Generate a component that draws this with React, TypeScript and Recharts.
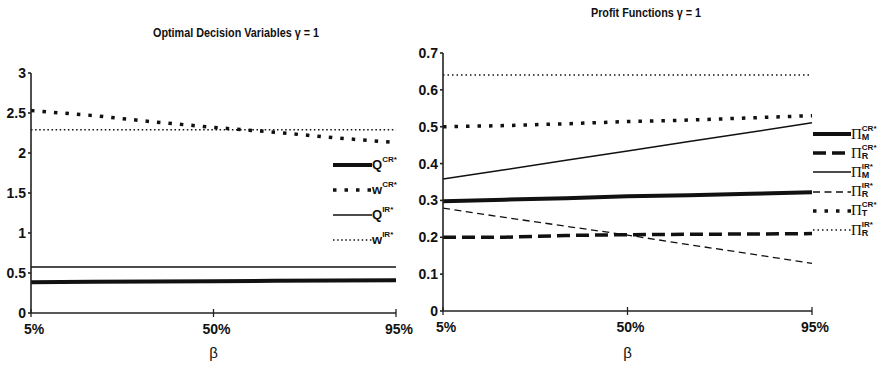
import { LineChart, Line, XAxis, YAxis } from 'recharts';

// β grid (percent) shared by both panels
const betaValues = [5, 20, 35, 50, 65, 80, 95];

// Optimal decision variables, γ = 1
const qCR = [0.385, 0.39, 0.394, 0.398, 0.402, 0.405, 0.409];
const wCR = [2.53, 2.47, 2.39, 2.32, 2.26, 2.19, 2.13];
const qIR = [0.575, 0.575, 0.575, 0.575, 0.575, 0.575, 0.575];
const wIR = [2.29, 2.29, 2.29, 2.29, 2.29, 2.29, 2.29];

// Profit functions, γ = 1
const piMCR = [0.298, 0.302, 0.306, 0.311, 0.314, 0.318, 0.322];
const piRCR = [0.2, 0.2, 0.205, 0.207, 0.208, 0.209, 0.21];
const piMIR = [0.358, 0.383, 0.409, 0.434, 0.46, 0.485, 0.511];
const piRIR = [0.279, 0.254, 0.23, 0.206, 0.18, 0.155, 0.129];
const piTCR = [0.5, 0.503, 0.508, 0.514, 0.518, 0.524, 0.53];
const piTIR = [0.64, 0.64, 0.64, 0.64, 0.64, 0.64, 0.64];

const leftTicks = [0, 0.5, 1, 1.5, 2, 2.5, 3];
const rightTicks = [0, 0.1, 0.2, 0.3, 0.4, 0.5, 0.6, 0.7];
const xTicks = [5, 50, 95];

const FONT = "'Liberation Sans Narrow', 'Arial Narrow', 'Liberation Sans', sans-serif";
const INK = '#111';
const AXIS = '#222';

interface SeriesDef {
  key: string;
  values: number[];
  width: number;
  dash?: string;
  base: string;
  sub?: string;
  sup: string;
}

const leftSeries: SeriesDef[] = [
  { key: 'qCR', values: qCR, width: 4, base: 'Q', sup: 'CR*' },
  { key: 'wCR', values: wCR, width: 3.5, dash: '3.5 8', base: 'w', sup: 'CR*' },
  { key: 'qIR', values: qIR, width: 1.6, base: 'Q', sup: 'IR*' },
  { key: 'wIR', values: wIR, width: 1.6, dash: '1.5 2.6', base: 'w', sup: 'IR*' },
];

const rightSeries: SeriesDef[] = [
  { key: 'piMCR', values: piMCR, width: 4, base: 'Π', sub: 'M', sup: 'CR*' },
  { key: 'piRCR', values: piRCR, width: 3.5, dash: '13 6', base: 'Π', sub: 'R', sup: 'CR*' },
  { key: 'piMIR', values: piMIR, width: 1.5, base: 'Π', sub: 'M', sup: 'IR*' },
  { key: 'piRIR', values: piRIR, width: 1.3, dash: '7 4.5', base: 'Π', sub: 'R', sup: 'IR*' },
  { key: 'piTCR', values: piTCR, width: 3.5, dash: '3.5 8', base: 'Π', sub: 'T', sup: 'CR*' },
  { key: 'piTIR', values: piTIR, width: 1.5, dash: '1.5 3', base: 'Π', sub: 'R', sup: 'IR*' },
];

function buildRows(series: SeriesDef[]) {
  return betaValues.map((beta, i) => {
    const row: Record<string, number> = { beta };
    series.forEach((s) => {
      row[s.key] = s.values[i];
    });
    return row;
  });
}

const tickStyle = { fill: INK, fontSize: 14, fontWeight: 700, fontFamily: FONT };

function XTick({ x, y, payload }: any) {
  return (
    <g>
      <line x1={x} x2={x} y1={y - 4} y2={y + 4} stroke={AXIS} strokeWidth={1.3} />
      <text x={x + 3} y={y + 21} textAnchor="middle" {...tickStyle}>
        {payload.value}%
      </text>
    </g>
  );
}

function LegendLabel({ s }: { s: SeriesDef }) {
  const isPi = s.base === 'Π';
  return (
    <span style={{ display: 'inline-flex', alignItems: 'flex-start', color: INK }}>
      <span
        style={{
          fontFamily: isPi ? "'Liberation Serif', serif" : FONT,
          fontSize: isPi ? 15 : 13,
          fontWeight: isPi ? 400 : 700,
          lineHeight: '14px',
        }}
      >
        {s.base}
      </span>
      <span
        style={{
          display: 'inline-flex',
          flexDirection: 'column',
          fontFamily: FONT,
          fontWeight: 700,
          fontSize: 8,
          lineHeight: '8px',
          marginTop: -2,
        }}
      >
        <span>{s.sup}</span>
        {s.sub && <span style={{ fontSize: 9, lineHeight: '9px' }}>{s.sub}</span>}
      </span>
    </span>
  );
}

function SeriesLegend({
  series,
  left,
  top,
  step,
  sample,
}: {
  series: SeriesDef[];
  left: number;
  top: number;
  step: number;
  sample: number;
}) {
  return (
    <div style={{ position: 'absolute', left, top }}>
      {series.map((s, i) => (
        <div
          key={s.key}
          style={{
            position: 'absolute',
            top: i * step - 8,
            left: 0,
            display: 'flex',
            alignItems: 'center',
            whiteSpace: 'nowrap',
            height: 16,
          }}
        >
          <svg width={sample} height={16}>
            <line
              x1={0}
              x2={sample}
              y1={8}
              y2={8}
              stroke={INK}
              strokeWidth={s.width}
              strokeDasharray={s.dash}
            />
          </svg>
          <LegendLabel s={s} />
        </div>
      ))}
    </div>
  );
}

function Panel({
  series,
  ticks,
  domain,
  left,
  width,
  top,
  yAxisWidth,
  right,
  xAxisHeight,
}: {
  series: SeriesDef[];
  ticks: number[];
  domain: [number, number];
  left: number;
  width: number;
  top: number;
  yAxisWidth: number;
  right: number;
  xAxisHeight: number;
}) {
  return (
    <div style={{ position: 'absolute', left, top: 0 }}>
      <LineChart
        width={width}
        height={370}
        data={buildRows(series)}
        margin={{ top, right, left: 0, bottom: 0 }}
      >
        <XAxis
          dataKey="beta"
          type="number"
          domain={[5, 95]}
          ticks={xTicks}
          height={xAxisHeight}
          stroke={AXIS}
          strokeWidth={1.6}
          tickLine={false}
          tickSize={0}
          tickMargin={0}
          tick={<XTick />}
          label={{
            value: 'β',
            position: 'insideBottom',
            offset: 12,
            style: { fill: INK, fontSize: 15, fontFamily: FONT },
          }}
        />
        <YAxis
          type="number"
          domain={domain}
          ticks={ticks}
          width={yAxisWidth}
          stroke={AXIS}
          strokeWidth={1.6}
          tickSize={3}
          tickMargin={2}
          tick={tickStyle}
          interval={0}
        />
        {series.map((s) => (
          <Line
            key={s.key}
            type="linear"
            dataKey={s.key}
            stroke={INK}
            strokeWidth={s.width}
            strokeDasharray={s.dash}
            dot={false}
            activeDot={false}
            isAnimationActive={false}
          />
        ))}
      </LineChart>
    </div>
  );
}

const titleStyle = {
  position: 'absolute' as const,
  fontFamily: FONT,
  fontWeight: 700,
  fontSize: 12,
  color: INK,
  whiteSpace: 'nowrap' as const,
  transform: 'translateX(-50%) scaleX(0.9)',
};

export default function App() {
  return (
    <div
      style={{
        position: 'absolute',
        left: 0,
        top: 0,
        width: 884,
        height: 370,
        background: '#fff',
        overflow: 'hidden',
      }}
    >
      <Panel
        series={leftSeries}
        ticks={leftTicks}
        domain={[0, 3]}
        left={0}
        width={440}
        top={73}
        yAxisWidth={31}
        right={44}
        xAxisHeight={57}
      />
      <Panel
        series={rightSeries}
        ticks={rightTicks}
        domain={[0, 0.7]}
        left={410}
        width={474}
        top={53}
        yAxisWidth={33}
        right={72}
        xAxisHeight={59}
      />
      <div style={{ ...titleStyle, left: 236, top: 26 }}>
        Optimal Decision Variables γ = 1
      </div>
      <div style={{ ...titleStyle, left: 646, top: 6 }}>Profit Functions γ = 1</div>
      <SeriesLegend series={leftSeries} left={333} top={165} step={25} sample={39} />
      <SeriesLegend series={rightSeries} left={813} top={134} step={19.2} sample={38} />
    </div>
  );
}
